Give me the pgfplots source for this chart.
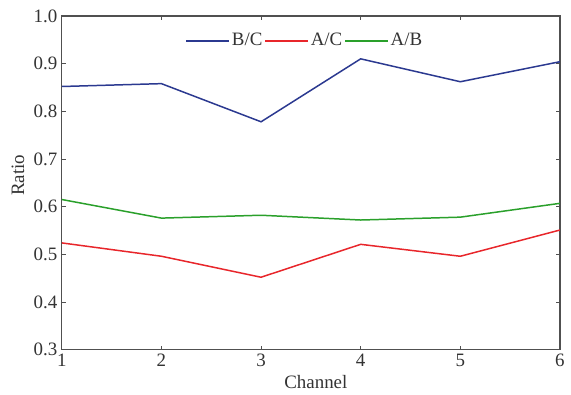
\documentclass[border=0pt]{standalone}
\usepackage{pgfplots}
\pgfplotsset{compat=1.18}
\usepackage{fontspec}
\setmainfont{Liberation Serif}
\definecolor{cblue}{RGB}{43,57,144}
\definecolor{cred}{RGB}{232,38,43}
\definecolor{cgreen}{RGB}{42,160,43}
\definecolor{axgray}{RGB}{80,80,80}
\begin{document}
\fontsize{19}{22}\selectfont
\begin{tikzpicture}
\begin{axis}[
  scale only axis, width=500pt, height=335pt,
  xmin=1, xmax=6, ymin=0.3, ymax=1.0,
  xtick={1,2,3,4,5,6}, ytick={0.3,0.4,0.5,0.6,0.7,0.8,0.9,1.0},
  /pgf/number format/assume math mode=true,
  yticklabel style={/pgf/number format/fixed,/pgf/number format/fixed zerofill,/pgf/number format/precision=1,/pgf/number format/assume math mode=true},
  xticklabel style={/pgf/number format/assume math mode=true},
  tick align=inside, major tick length=4pt,
  tick style={axgray, line width=0.8pt},
  axis line style={axgray, line width=1.2pt},
  ticklabel style={font=\fontsize{19}{22}\selectfont, text=black!80},
  xticklabel style={yshift=2pt},
  yticklabel style={xshift=2pt},
  xlabel={Channel}, ylabel={Ratio},
  label style={font=\fontsize{19}{22}\selectfont, text=black!80},
  xlabel style={at={(axis description cs:0.51,-0.0955)}, anchor=center},
  ylabel style={at={(axis description cs:-0.088,0.522)}, anchor=center},
  legend style={draw=none, fill=none, legend columns=3, at={(axis description cs:0.488,0.925)}, anchor=center,
    font=\fontsize{19}{22}\selectfont, text=black!80,
    /tikz/every even column/.append style={column sep=0pt}},
  legend image code/.code={\draw[#1] (0pt,0pt) -- (43pt,0pt);},
  every axis plot/.append style={line width=1.5pt},
]
\addplot[cblue] coordinates {(1,0.852) (2,0.858) (3,0.778) (4,0.910) (5,0.862) (6,0.904)};
\addlegendentry{B/C}
\addplot[cred] coordinates {(1,0.524) (2,0.496) (3,0.452) (4,0.521) (5,0.496) (6,0.551)};
\addlegendentry{A/C}
\addplot[cgreen] coordinates {(1,0.615) (2,0.576) (3,0.582) (4,0.572) (5,0.578) (6,0.607)};
\addlegendentry{A/B}
\end{axis}
\path (current axis.south west) ++(-62pt,0pt);
\path (current axis.south east) ++(8pt,0pt);
\path (current axis.north west) ++(0pt,16pt);
\end{tikzpicture}
\end{document}
